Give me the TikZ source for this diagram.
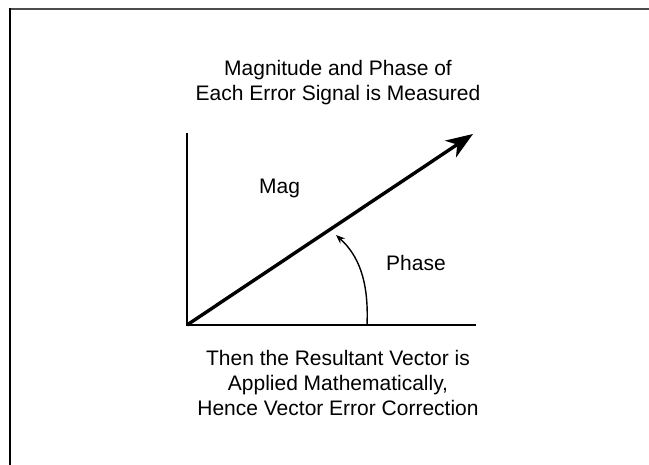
\documentclass[tikz,border=0pt]{standalone}
\usepackage{fontspec}
\setmainfont{Liberation Sans}
\usetikzlibrary{arrows.meta,positioning}

\begin{document}
\begin{tikzpicture}[x=1pt,y=1pt,every node/.style={font=\fontsize{21}{25}\selectfont,inner sep=0pt},
  axis/.style={line width=1.8pt},
  vec/.style={line width=3.4pt,-{Stealth[length=27pt,width=20pt,inset=8pt]}},
  phasearc/.style={line width=1.4pt,-{Stealth[length=9pt,width=7pt]}}]
\useasboundingbox (0,0) rectangle (649,465);
\draw[line width=2pt,color=black!70] (9,456)--(649,456);
\draw[line width=2pt] (9.5,457)--(9.5,0);
\coordinate (O) at (187,140);
\coordinate (xend) at (476,140);
\coordinate (yend) at (187,332);
\coordinate (tip) at (473,331);
\coordinate (a0) at (367,140);
\coordinate (a1) at (336,230);
\draw[axis] (yend)--(O)--(xend);
\draw[vec] (O)--(tip);
\draw[phasearc] (a0) .. controls (369,185) and (358,210) .. (a1);
\node[anchor=base west] (mag) at (259,271) {Mag};
\node[anchor=base west] (phase) at (386,194) {Phase};
% base anchor sits on the last line
\node[anchor=base,align=center] (top) at (338,364.5) {Magnitude and Phase of\\Each Error Signal is Measured};
\node[anchor=base,align=center] (bottom) at (338,49) {Then the Resultant Vector is\\Applied Mathematically,\\Hence Vector Error Correction};
\end{tikzpicture}
\end{document}
